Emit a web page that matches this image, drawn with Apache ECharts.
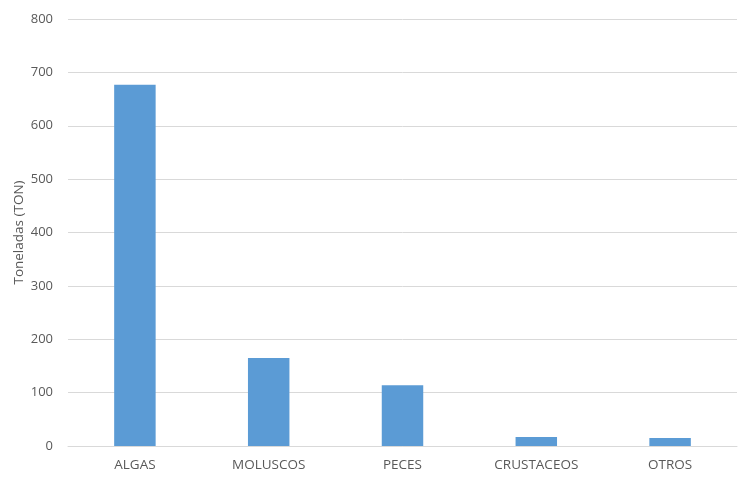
<!DOCTYPE html>
<html><head><meta charset="utf-8">
<script src="https://cdn.jsdelivr.net/npm/echarts@6/dist/echarts.min.js"></script>
<style>html,body{margin:0;padding:0;background:#fff}#c{width:745px;height:483px}</style>
</head><body><div id="c"></div>
<script>
const categories = ['ALGAS','MOLUSCOS','PECES','CRUSTACEOS','OTROS'];
const values = [677, 165, 114, 17, 15];
const yTicks = [0,100,200,300,400,500,600,700,800];

const F = '"Open Sans", sans-serif';
const chart = echarts.init(document.getElementById('c'));
chart.setOption({
  animation:false,
  grid:{left:68,right:8,top:19,bottom:37,containLabel:false,outerBoundsMode:'none'},
  xAxis:{type:'category',data:categories,
    axisLine:{lineStyle:{color:'#d9d9d9',width:1}},
    axisTick:{show:false},
    axisLabel:{color:'#595959',fontSize:13.5,fontFamily:F,margin:12}},
  yAxis:{type:'value',min:yTicks[0],max:yTicks[yTicks.length-1],interval:100,
    name:'Toneladas (TON)',nameLocation:'middle',nameGap:42,nameMoveOverlap:false,
    nameTextStyle:{color:'#595959',fontSize:13.5,fontFamily:F},
    axisLine:{show:false},axisTick:{show:false},
    axisLabel:{color:'#595959',fontSize:13,fontFamily:F,margin:15},
    splitLine:{lineStyle:{color:'#d9d9d9',width:1}}},
  series:[{type:'bar',data:values,barWidth:'31%',itemStyle:{color:'#5b9bd5'}}]
});
</script></body></html>
